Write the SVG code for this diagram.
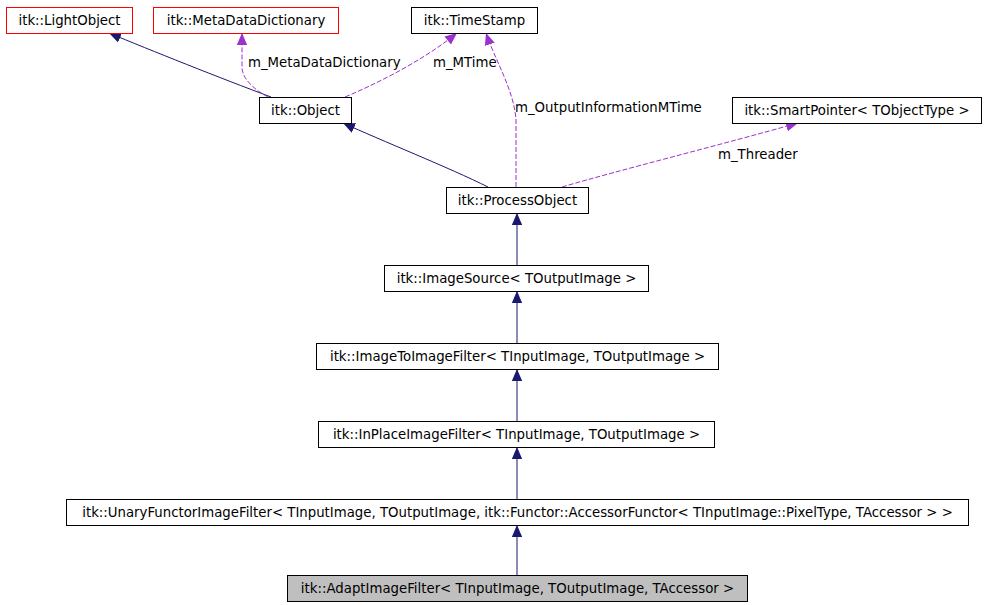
<svg xmlns="http://www.w3.org/2000/svg" width="987" height="605" viewBox="0 0 987 605">
<style>
.n rect{fill:#ffffff;stroke:#000000;stroke-width:1}
.n.red rect{stroke:#ff0000}
.n.cur rect{fill:#bfbfbf}
text{font-family:"DejaVu Sans","Liberation Sans",sans-serif;font-size:13.3px;fill:#000000}
.n text{text-anchor:middle}
.inh{fill:none;stroke:#191970;stroke-width:1}
.use{fill:none;stroke:#9a32cd;stroke-width:1;stroke-dasharray:5,2}
</style>
<defs>
<marker id="an" markerWidth="14" markerHeight="12" refX="12" refY="6" orient="auto" markerUnits="userSpaceOnUse"><path d="M0,0.8 L12,6 L0,11.2 z" fill="#191970"/></marker>
<marker id="ap" markerWidth="14" markerHeight="12" refX="12" refY="6" orient="auto" markerUnits="userSpaceOnUse"><path d="M0,0.8 L12,6 L0,11.2 z" fill="#9a32cd"/></marker>
</defs>
<rect width="987" height="605" fill="#ffffff"/>
<g id="edges">
<path class="inh" d="M271,97 C220,78 150,50 109,33" marker-end="url(#an)"/>
<path class="use" d="M268,97 C255,90 243,80 242,68 L242,33" marker-end="url(#ap)"/>
<path class="use" d="M345,97 C390,78 430,55 457,33" marker-end="url(#ap)"/>
<path class="inh" d="M488,187 C450,168 380,140 343,123" marker-end="url(#an)"/>
<path class="use" d="M516,187 L516,120 C514,90 495,60 486,33" marker-end="url(#ap)"/>
<path class="use" d="M562,187 C620,170 720,145 798,123" marker-end="url(#ap)"/>
<path class="inh" d="M517,265 L517,213" marker-end="url(#an)"/>
<path class="inh" d="M517,343 L517,291" marker-end="url(#an)"/>
<path class="inh" d="M517,421 L517,369" marker-end="url(#an)"/>
<path class="inh" d="M517,499 L517,447" marker-end="url(#an)"/>
<path class="inh" d="M517,575 L517,525" marker-end="url(#an)"/>
<text x="248" y="67">m_MetaDataDictionary</text>
<text x="433" y="67">m_MTime</text>
<text x="515" y="112">m_OutputInformationMTime</text>
<text x="718" y="159">m_Threader</text>
</g>
<g id="LightObject" class="n red"><rect x="6.5" y="7.5" width="126" height="26"/><text x="69.5" y="25">itk::LightObject</text></g>
<g id="MetaDataDictionary" class="n red"><rect x="153.5" y="7.5" width="185" height="26"/><text x="246" y="25">itk::MetaDataDictionary</text></g>
<g id="TimeStamp" class="n"><rect x="411.5" y="7.5" width="126" height="26"/><text x="474.5" y="25">itk::TimeStamp</text></g>
<g id="Object" class="n"><rect x="259.5" y="97.5" width="92" height="26"/><text x="305.5" y="115">itk::Object</text></g>
<g id="SmartPointer" class="n"><rect x="732.5" y="97.5" width="249" height="26"/><text x="857" y="115">itk::SmartPointer&lt; TObjectType &gt;</text></g>
<g id="ProcessObject" class="n"><rect x="446.5" y="187.5" width="142" height="26"/><text x="517.5" y="205">itk::ProcessObject</text></g>
<g id="ImageSource" class="n"><rect x="384.5" y="265.5" width="264" height="26"/><text x="516.5" y="283">itk::ImageSource&lt; TOutputImage &gt;</text></g>
<g id="ImageToImageFilter" class="n"><rect x="316.5" y="343.5" width="402" height="26"/><text x="517.5" y="361">itk::ImageToImageFilter&lt; TInputImage, TOutputImage &gt;</text></g>
<g id="InPlaceImageFilter" class="n"><rect x="318.5" y="421.5" width="396" height="26"/><text x="516.5" y="439">itk::InPlaceImageFilter&lt; TInputImage, TOutputImage &gt;</text></g>
<g id="UnaryFunctorImageFilter" class="n"><rect x="66.5" y="499.5" width="902" height="26"/><text x="517.5" y="517">itk::UnaryFunctorImageFilter&lt; TInputImage, TOutputImage, itk::Functor::AccessorFunctor&lt; TInputImage::PixelType, TAccessor &gt; &gt;</text></g>
<g id="AdaptImageFilter" class="n cur"><rect x="287.5" y="575.5" width="460" height="26"/><text x="517.5" y="593">itk::AdaptImageFilter&lt; TInputImage, TOutputImage, TAccessor &gt;</text></g>
</svg>
